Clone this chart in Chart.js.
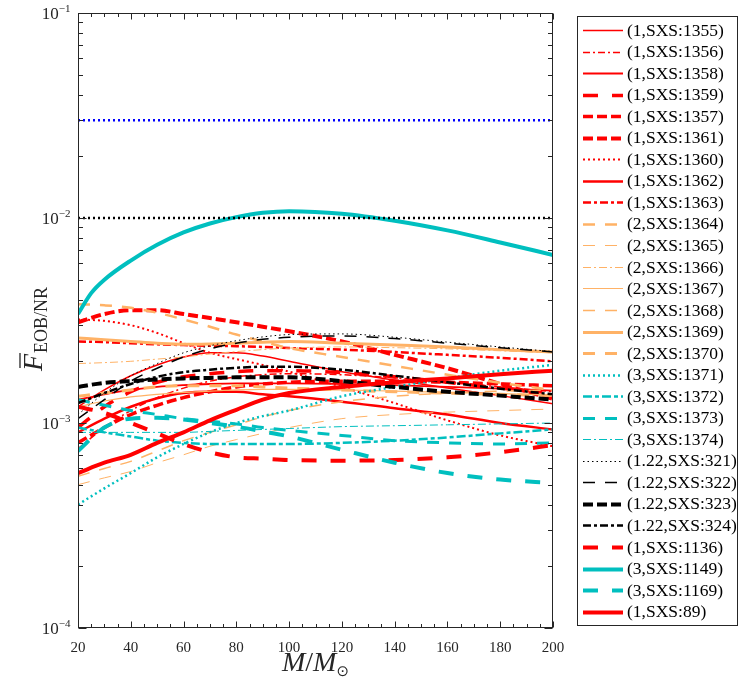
<!DOCTYPE html>
<html><head><meta charset="utf-8">
<script src="https://cdn.jsdelivr.net/npm/chart.js@4/dist/chart.umd.min.js"></script>
<style>html,body{margin:0;padding:0;background:#fff}#wrap{width:739px;height:679px}</style>
</head><body><div id="wrap"><canvas id="c" width="739" height="679"></canvas></div>
<script>
// ---------------- DATA ----------------
const massValues = [20,30,40,50,60,70,80,90,100,120,140,160,180,200];
const mass1149 = [20,25,30,40,50,60,70,80,90,100,120,140,160,180,200];
const seriesLabels = ['(1,SXS:1355)','(1,SXS:1356)','(1,SXS:1358)','(1,SXS:1359)','(1,SXS:1357)','(1,SXS:1361)','(1,SXS:1360)','(1,SXS:1362)','(1,SXS:1363)','(2,SXS:1364)','(2,SXS:1365)','(2,SXS:1366)','(2,SXS:1367)','(2,SXS:1368)','(2,SXS:1369)','(2,SXS:1370)','(3,SXS:1371)','(3,SXS:1372)','(3,SXS:1373)','(3,SXS:1374)','(1.22,SXS:321)','(1.22,SXS:322)','(1.22,SXS:323)','(1.22,SXS:324)','(1,SXS:1136)','(3,SXS:1149)','(3,SXS:1169)','(1,SXS:89)'];
const f1355 = [1.2e-3,1.45e-3,1.7e-3,1.92e-3,2.1e-3,2.2e-3,2.2e-3,2.12e-3,2.0e-3,1.78e-3,1.62e-3,1.48e-3,1.36e-3,1.24e-3];
const f1356 = [7.5e-4,9.5e-4,1.15e-3,1.33e-3,1.48e-3,1.6e-3,1.68e-3,1.72e-3,1.74e-3,1.72e-3,1.66e-3,1.58e-3,1.5e-3,1.42e-3];
const f1358 = [1.3e-3,1.38e-3,1.45e-3,1.5e-3,1.53e-3,1.55e-3,1.56e-3,1.56e-3,1.56e-3,1.55e-3,1.53e-3,1.5e-3,1.47e-3,1.44e-3];
const f1359 = [9.5e-4,1.2e-3,1.42e-3,1.58e-3,1.68e-3,1.74e-3,1.78e-3,1.8e-3,1.8e-3,1.76e-3,1.68e-3,1.58e-3,1.48e-3,1.4e-3];
const f1357 = [8.0e-4,9.5e-4,1.1e-3,1.22e-3,1.33e-3,1.42e-3,1.5e-3,1.55e-3,1.58e-3,1.6e-3,1.6e-3,1.58e-3,1.55e-3,1.52e-3];
const f1361 = [3.1e-3,3.4e-3,3.55e-3,3.55e-3,3.4e-3,3.25e-3,3.1e-3,2.95e-3,2.8e-3,2.5e-3,2.15e-3,1.85e-3,1.55e-3,1.31e-3];
const f1360 = [3.2e-3,3.15e-3,3.0e-3,2.75e-3,2.45e-3,2.2e-3,2.05e-3,1.92e-3,1.78e-3,1.5e-3,1.25e-3,1.03e-3,8.7e-4,7.7e-4];
const f1362 = [9.0e-4,1.05e-3,1.2e-3,1.32e-3,1.4e-3,1.42e-3,1.42e-3,1.38e-3,1.35e-3,1.27e-3,1.18e-3,1.1e-3,1.0e-3,9.3e-4];
const f1363 = [2.5e-3,2.48e-3,2.45e-3,2.42e-3,2.4e-3,2.38e-3,2.37e-3,2.35e-3,2.32e-3,2.28e-3,2.22e-3,2.15e-3,2.08e-3,2.0e-3];
const f1364 = [3.8e-3,3.75e-3,3.65e-3,3.45e-3,3.2e-3,2.95e-3,2.7e-3,2.5e-3,2.32e-3,2.1e-3,1.9e-3,1.72e-3,1.57e-3,1.45e-3];
const f1365 = [5.0e-4,5.4e-4,5.8e-4,6.4e-4,7.0e-4,7.7e-4,8.3e-4,8.9e-4,9.5e-4,1.05e-3,1.1e-3,1.13e-3,1.15e-3,1.17e-3];
const f1366 = [1.95e-3,1.97e-3,2.0e-3,2.05e-3,2.1e-3,2.17e-3,2.23e-3,2.28e-3,2.32e-3,2.35e-3,2.33e-3,2.3e-3,2.25e-3,2.2e-3];
const f1367 = [1.2e-3,1.28e-3,1.34e-3,1.38e-3,1.41e-3,1.43e-3,1.45e-3,1.46e-3,1.46e-3,1.45e-3,1.43e-3,1.41e-3,1.39e-3,1.37e-3];
const f1368 = [5.5e-4,6.0e-4,6.5e-4,7.3e-4,8.2e-4,9.0e-4,9.8e-4,1.07e-3,1.15e-3,1.27e-3,1.35e-3,1.4e-3,1.43e-3,1.45e-3];
const f1369 = [2.6e-3,2.55e-3,2.5e-3,2.45e-3,2.42e-3,2.43e-3,2.45e-3,2.48e-3,2.5e-3,2.45e-3,2.4e-3,2.35e-3,2.28e-3,2.22e-3];
const f1370 = [1.35e-3,1.4e-3,1.45e-3,1.5e-3,1.52e-3,1.52e-3,1.52e-3,1.5e-3,1.48e-3,1.45e-3,1.42e-3,1.4e-3,1.38e-3,1.36e-3];
const f1371 = [4.0e-4,4.8e-4,5.7e-4,6.8e-4,7.9e-4,9.0e-4,1.0e-3,1.08e-3,1.15e-3,1.35e-3,1.5e-3,1.65e-3,1.8e-3,1.92e-3];
const f1372 = [9.5e-4,9.0e-4,8.6e-4,8.2e-4,8.0e-4,7.9e-4,7.9e-4,7.9e-4,7.9e-4,8.0e-4,8.2e-4,8.5e-4,8.9e-4,9.3e-4];
const f1373 = [1.3e-3,1.22e-3,1.15e-3,1.1e-3,1.05e-3,1.02e-3,9.9e-4,9.5e-4,9.2e-4,8.7e-4,8.2e-4,8.0e-4,7.9e-4,8.0e-4];
const f1374 = [9.0e-4,9.0e-4,9.0e-4,9.0e-4,9.0e-4,9.1e-4,9.2e-4,9.3e-4,9.4e-4,9.6e-4,9.7e-4,9.8e-4,9.9e-4,1.0e-3];
const f321  = [1.1e-3,1.4e-3,1.7e-3,1.95e-3,2.2e-3,2.38e-3,2.52e-3,2.63e-3,2.7e-3,2.72e-3,2.62e-3,2.48e-3,2.35e-3,2.23e-3];
const f322  = [1.05e-3,1.3e-3,1.6e-3,1.85e-3,2.1e-3,2.3e-3,2.45e-3,2.56e-3,2.62e-3,2.66e-3,2.58e-3,2.45e-3,2.33e-3,2.22e-3];
const f323  = [1.5e-3,1.57e-3,1.6e-3,1.63e-3,1.65e-3,1.66e-3,1.67e-3,1.67e-3,1.67e-3,1.6e-3,1.5e-3,1.42e-3,1.36e-3,1.3e-3];
const f324  = [1.25e-3,1.4e-3,1.55e-3,1.68e-3,1.77e-3,1.82e-3,1.86e-3,1.88e-3,1.88e-3,1.82e-3,1.7e-3,1.58e-3,1.47e-3,1.38e-3];
const f1136 = [1.2e-3,1.12e-3,1.0e-3,8.9e-4,7.9e-4,7.2e-4,6.8e-4,6.7e-4,6.6e-4,6.55e-4,6.6e-4,6.8e-4,7.2e-4,7.8e-4];
const f1149 = [3.4e-3,4.3e-3,5.0e-3,6.2e-3,7.4e-3,8.5e-3,9.4e-3,1.01e-2,1.06e-2,1.08e-2,1.05e-2,9.7e-3,8.7e-3,7.6e-3,6.6e-3];
const f1169 = [7.3e-4,9.5e-4,1.05e-3,1.06e-3,1.04e-3,1.0e-3,9.6e-4,9.1e-4,8.6e-4,7.4e-4,6.4e-4,5.7e-4,5.3e-4,5.1e-4];
const f89   = [5.7e-4,6.4e-4,7.0e-4,8.0e-4,9.0e-4,1.03e-3,1.16e-3,1.3e-3,1.4e-3,1.5e-3,1.58e-3,1.65e-3,1.73e-3,1.8e-3];
const seriesValues = [f1355,f1356,f1358,f1359,f1357,f1361,f1360,f1362,f1363,f1364,f1365,f1366,f1367,f1368,f1369,f1370,f1371,f1372,f1373,f1374,f321,f322,f323,f324,f1136,f1149,f1169,f89];
const seriesMass = seriesValues.map(v => v === f1149 ? mass1149 : massValues);
const thresholdHigh = 0.03;
const thresholdLow = 0.01;
const xRange = [20, 200];
const yDecades = [-4, -3, -2, -1];

// ---------------- STYLES ----------------
const RED='#ff0000', ORG='#ffb266', CYN='#00bfbf', BLK='#000000';
const styles = [
 {c:RED,w:1.5,d:[]},{c:RED,w:1.5,d:[7,3,2,3]},{c:RED,w:1.8,d:[]},{c:RED,w:3.5,d:[15,14]},
 {c:RED,w:3.5,d:[10,4]},{c:RED,w:4,d:[10,4]},{c:RED,w:2,d:[2,3]},{c:RED,w:2.5,d:[]},
 {c:RED,w:2.5,d:[8,3,3,3]},{c:ORG,w:2.5,d:[12,10]},{c:ORG,w:1,d:[12,10]},{c:ORG,w:1,d:[8,3,2,3]},
 {c:ORG,w:1.2,d:[]},{c:ORG,w:1.5,d:[12,10]},{c:ORG,w:3,d:[]},{c:ORG,w:3,d:[12,10]},
 {c:CYN,w:2.5,d:[2,3]},{c:CYN,w:2.5,d:[9,3,4,3]},{c:CYN,w:3,d:[12,10]},{c:CYN,w:1,d:[8,3,2,3]},
 {c:BLK,w:1,d:[1.5,3]},{c:BLK,w:1.5,d:[12,10]},{c:BLK,w:4,d:[10,4]},{c:BLK,w:2.5,d:[8,3,3,3]},
 {c:RED,w:4,d:[15,14]},{c:CYN,w:4,d:[]},{c:CYN,w:4,d:[15,14]},{c:RED,w:4,d:[]}
];
const SERIF = "'Liberation Serif', 'Times New Roman', serif";
const AX = '#262626';

const datasets = seriesValues.map((vals, i) => ({
  label: seriesLabels[i],
  data: seriesMass[i].map((m, k) => ({x: m, y: vals[k]})),
  borderColor: styles[i].c, borderWidth: styles[i].w, borderDash: styles[i].d,
  borderCapStyle: 'butt', pointRadius: 0, fill: false,
  cubicInterpolationMode: 'monotone', order: -i, isSeries: true
}));
datasets.push({label:'thrHigh', data: xRange.map(m => ({x:m, y:thresholdHigh})), borderColor:'#0000ff', borderWidth:2.5, borderDash:[2,3], pointRadius:0, order:-40});
datasets.push({label:'thrLow', data: xRange.map(m => ({x:m, y:thresholdLow})), borderColor:'#000000', borderWidth:2.5, borderDash:[2,3], pointRadius:0, order:-41});

function line(ctx,x1,y1,x2,y2){ctx.beginPath();ctx.moveTo(x1,y1);ctx.lineTo(x2,y2);ctx.stroke();}

const decor = {
  id: 'decor',
  afterDraw(chart) {
    const {ctx, chartArea: a, scales: {x, y}} = chart;
    ctx.save();
    ctx.setLineDash([]);
    ctx.strokeStyle = AX; ctx.lineWidth = 1;
    const L = Math.round(a.left)+0.5, R = Math.round(a.right)-0.5, T = Math.round(a.top)+0.5, B = Math.round(a.bottom)-0.5;
    ctx.strokeRect(L, T, R-L, B-T);
    for (let v = xRange[0]; v <= xRange[1]; v += 5) {
      const px = Math.round(x.getPixelForValue(v)) + 0.5;
      const len = (v % 20 === 0) ? 6 : 3.5;
      line(ctx, px, B, px, B-len); line(ctx, px, T, px, T+len);
    }
    for (const e of yDecades) {
      for (let m = 1; m <= 9; m++) {
        const v = m * Math.pow(10, e);
        if (v > 0.1000001) break;
        const py = Math.round(y.getPixelForValue(v)) + 0.5;
        const len = m === 1 ? 8 : 4.5;
        line(ctx, L, py, L+len, py); line(ctx, R, py, R-len, py);
      }
    }
    ctx.fillStyle = AX; ctx.textBaseline = 'alphabetic';
    for (const e of yDecades) {
      const py = y.getPixelForValue(Math.pow(10, e));
      ctx.font = `17px ${SERIF}`;
      const base = '10'; const wb = ctx.measureText(base).width;
      ctx.font = `11px ${SERIF}`;
      const sup = '\u2212' + Math.abs(e); const ws = ctx.measureText(sup).width;
      const right = L - 8;
      ctx.font = `17px ${SERIF}`; ctx.textAlign = 'left';
      ctx.fillText(base, right - ws - wb, py + 6);
      ctx.font = `11px ${SERIF}`;
      ctx.fillText(sup, right - ws, py - 1);
    }
    {
      const cx = (a.left + a.right)/2, by = 671;
      const parts = [
        {t:'M', f:`italic 28px ${SERIF}`, dy:0},
        {t:'/', f:`28px ${SERIF}`, dy:0},
        {t:'M', f:`italic 28px ${SERIF}`, dy:0},
        {t:'\u2299', f:`15px 'DejaVu Sans', sans-serif`, dy:5}
      ];
      let w = 0; for (const p of parts) { ctx.font = p.f; p.w = ctx.measureText(p.t).width; w += p.w; }
      let xx = cx - w/2; ctx.textAlign = 'left';
      for (const p of parts) { ctx.font = p.f; ctx.fillText(p.t, xx, by + p.dy); xx += p.w; }
    }
    {
      ctx.save();
      ctx.translate(42, 329); ctx.rotate(-Math.PI/2);
      ctx.font = `italic 28px ${SERIF}`; const wF = ctx.measureText('F').width;
      ctx.font = `18px ${SERIF}`; const wS = ctx.measureText('EOB/NR').width;
      const total = wF + 1 + wS; let xx = -total/2;
      ctx.textAlign = 'left';
      ctx.font = `italic 28px ${SERIF}`; ctx.fillText('F', xx, 0);
      ctx.lineWidth = 1.3; ctx.strokeStyle = AX; line(ctx, xx + 3, -22, xx + wF + 1, -22);
      ctx.font = `18px ${SERIF}`; ctx.fillText('EOB/NR', xx + wF + 1, 5);
      ctx.restore();
    }
    {
      ctx.strokeStyle = AX; ctx.lineWidth = 1; ctx.setLineDash([]);
      ctx.strokeRect(577.5, 16.5, 160, 609);
      ctx.textAlign = 'left'; ctx.textBaseline = 'middle';
      ctx.font = `17.5px ${SERIF}`;
      chart.data.datasets.forEach((ds, i) => {
        if (!ds.isSeries) return;
        const yy = 30 + i * 21.54;
        ctx.save();
        ctx.strokeStyle = ds.borderColor; ctx.lineWidth = ds.borderWidth; ctx.setLineDash(ds.borderDash || []);
        ctx.lineCap = 'butt';
        line(ctx, 583, Math.round(yy)+0.5, 623, Math.round(yy)+0.5);
        ctx.restore();
        ctx.fillStyle = '#000'; ctx.fillText(ds.label, 627, yy + 1);
      });
    }
    ctx.restore();
  }
};

new Chart(document.getElementById('c'), {
  type: 'line',
  data: { datasets },
  options: {
    responsive: false, animation: false, devicePixelRatio: 1,
    layout: { padding: { left: 0, right: 186, top: 13, bottom: 0 } },
    plugins: { legend: { display: false }, tooltip: { enabled: false } },
    scales: {
      x: {
        type: 'linear', min: xRange[0], max: xRange[1],
        grid: { display: false, drawTicks: false }, border: { display: false },
        ticks: { stepSize: 20, maxRotation: 0, autoSkip: false, padding: 11, color: AX, font: { family: SERIF, size: 15 } },
        afterFit: s => { s.height = 51; }
      },
      y: {
        type: 'logarithmic', min: 1e-4, max: 1e-1,
        grid: { display: false, drawTicks: false }, border: { display: false },
        ticks: { display: false },
        afterFit: s => { s.width = 78; }
      }
    }
  },
  plugins: [decor]
});
</script></body></html>
